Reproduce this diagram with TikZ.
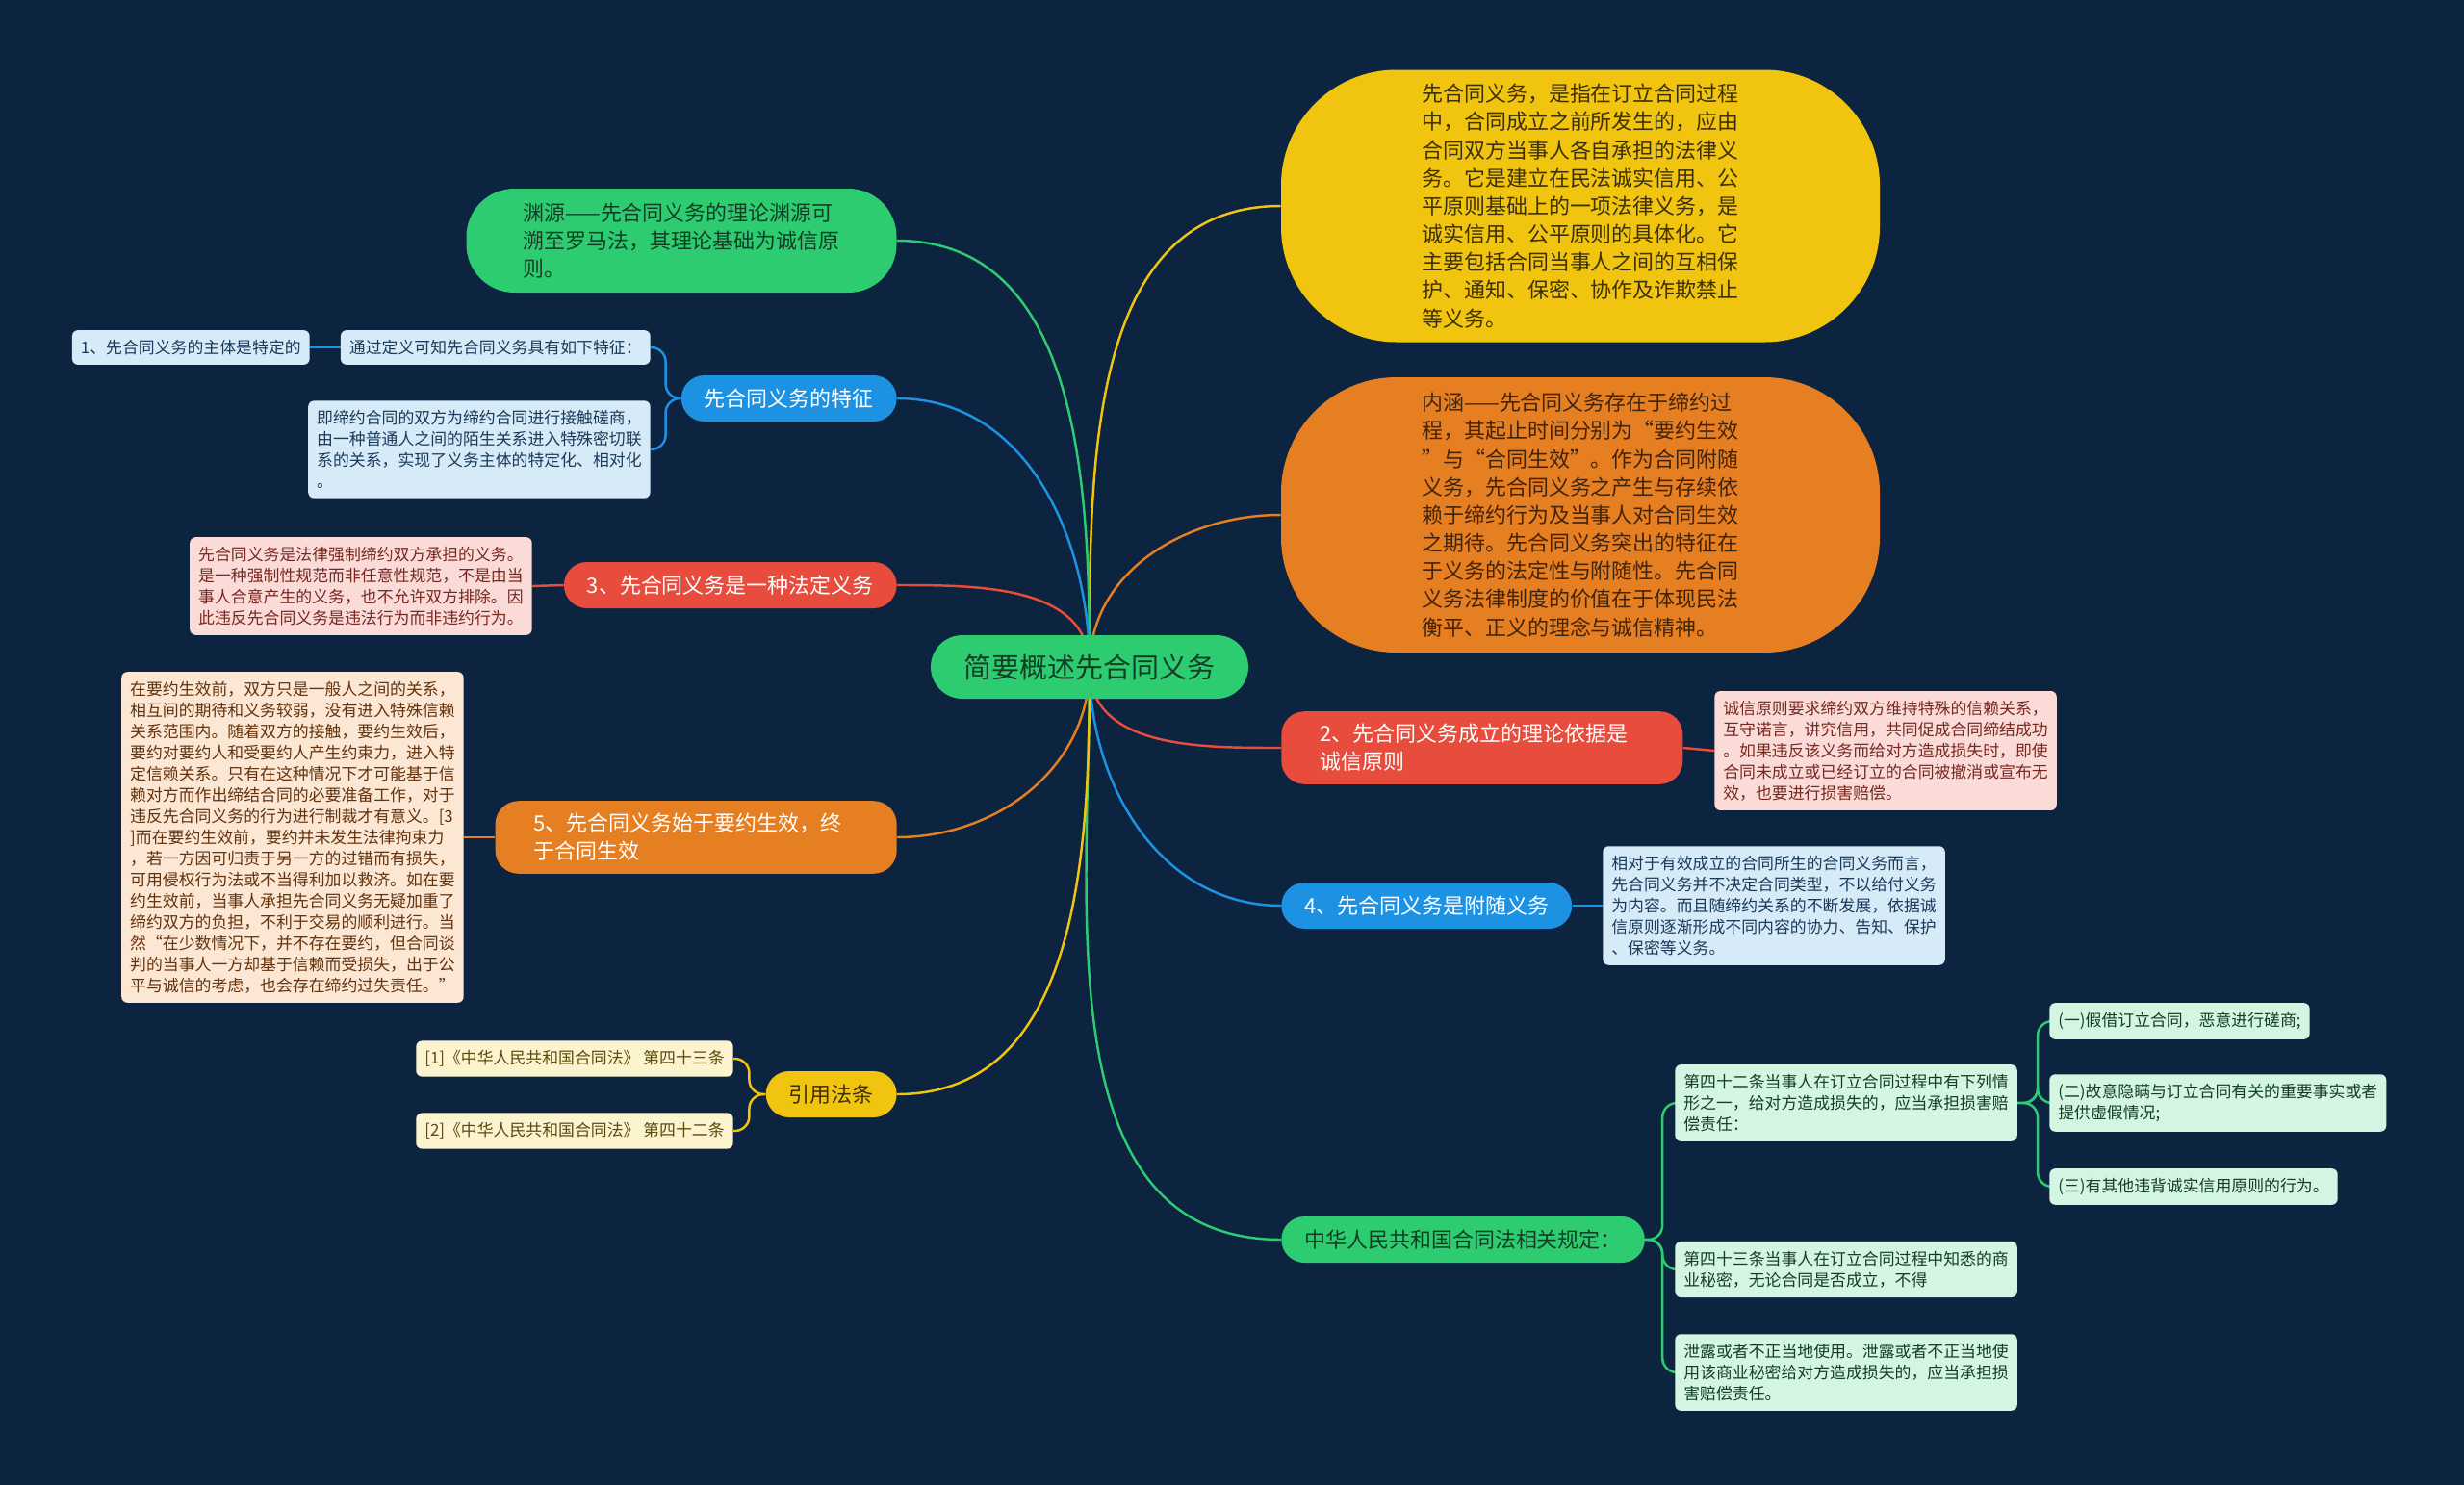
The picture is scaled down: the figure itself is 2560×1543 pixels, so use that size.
\documentclass[tikz,border=0pt]{standalone}
\usepackage{fontspec}
\setmainfont{Noto Sans CJK SC}
\usepackage{tikz}
\usetikzlibrary{calc,positioning}
\definecolor{bgnavy}{RGB}{13,36,64}
\definecolor{mgreen}{RGB}{46,204,113}
\definecolor{myellow}{RGB}{241,196,15}
\definecolor{morange}{RGB}{230,126,34}
\definecolor{mred}{RGB}{231,76,60}
\definecolor{mblue}{RGB}{30,146,226}
\definecolor{lgreen}{RGB}{213,245,227}
\definecolor{lyellow}{RGB}{252,243,207}
\definecolor{lorange}{RGB}{251,231,212}
\definecolor{lred}{RGB}{250,219,216}
\definecolor{lblue}{RGB}{214,234,248}
\definecolor{dgreen}{RGB}{18,62,38}
\definecolor{dyellow}{RGB}{60,48,8}
\definecolor{dorange}{RGB}{66,36,10}
\definecolor{dred}{RGB}{120,40,31}
\definecolor{dblue}{RGB}{27,58,90}
\definecolor{dbrown}{RGB}{100,50,12}
\definecolor{dolive}{RGB}{90,74,12}
\pgfdeclarelayer{bg}
\pgfdeclarelayer{edges}
\pgfsetlayers{bg,edges,main}

\begin{document}
\begin{tikzpicture}[x=0.2mm, y=-0.2mm,
    root/.style={fill=mgreen, text=dgreen, rounded corners=6.6mm, minimum width=66mm,
      minimum height=13.2mm, font=\fontsize{16.5}{20}\selectfont},
    pill/.style={rounded corners=24mm, minimum width=124.4mm, align=left,
      font=\fontsize{12.5}{16.6}\selectfont},
    branch/.style={rounded corners=4.8mm, minimum height=9.6mm, inner xsep=4.8mm,
      align=left, font=\fontsize{12.5}{16.6}\selectfont},
    branchtwo/.style={branch, inner xsep=8mm, inner ysep=2.6mm, text width=67.4mm},
    leaf/.style={rounded corners=1.2mm, inner xsep=1.8mm, inner ysep=2mm, align=left,
      font=\fontsize{9.6}{12.5}\selectfont},
    link/.style={line width=1.4pt},
    bracket/.style={line width=1.4pt, rounded corners=3mm}]
  \begin{pgfonlayer}{bg}
    \fill[bgnavy] (0,0) rectangle (2560,1543);
  \end{pgfonlayer}
  \useasboundingbox (0,0) rectangle (2560,1543);

  % centre
  \node[root] (root) at (1132,693) {简要概述先合同义务};

  % right branches
  \node[pill, fill=myellow, text=dyellow, minimum height=56.6mm] (dingyi) at (1642,214)
    {先合同义务，是指在订立合同过程\\中，合同成立之前所发生的，应由\\合同双方当事人各自承担的法律义\\务。它是建立在民法诚实信用、公\\平原则基础上的一项法律义务，是\\诚实信用、公平原则的具体化。它\\主要包括合同当事人之间的互相保\\护、通知、保密、协作及诈欺禁止\\等义务。};
  \node[pill, fill=morange, text=dorange, minimum height=57.2mm] (neihan) at (1642,535)
    {内涵——先合同义务存在于缔约过\\程，其起止时间分别为“要约生效\\”与“合同生效”。作为合同附随\\义务，先合同义务之产生与存续依\\赖于缔约行为及当事人对合同生效\\之期待。先合同义务突出的特征在\\于义务的法定性与附随性。先合同\\义务法律制度的价值在于体现民法\\衡平、正义的理念与诚信精神。};
  \node[branchtwo, fill=mred, text=white, anchor=west] (yiju) at (1331,777)
    {2、先合同义务成立的理论依据是\\诚信原则};
  \node[leaf, fill=lred, text=dred, anchor=west] (yijuleaf) at (1781,780)
    {诚信原则要求缔约双方维持特殊的信赖关系，\\互守诺言，讲究信用，共同促成合同缔结成功\\。如果违反该义务而给对方造成损失时，即使\\合同未成立或已经订立的合同被撤消或宣布无\\效，也要进行损害赔偿。};
  \node[branch, fill=mblue, text=white, anchor=west] (fusui) at (1331,941)
    {4、先合同义务是附随义务};
  \node[leaf, fill=lblue, text=dblue, anchor=west] (fusuileaf) at (1665,941)
    {相对于有效成立的合同所生的合同义务而言，\\先合同义务并不决定合同类型，不以给付义务\\为内容。而且随缔约关系的不断发展，依据诚\\信原则逐渐形成不同内容的协力、告知、保护\\、保密等义务。};
  \node[branch, fill=mgreen, text=dgreen, anchor=west] (hetongfa) at (1331,1288)
    {中华人民共和国合同法相关规定：};
  \node[leaf, fill=lgreen, text=dgreen, anchor=west] (tiao42) at (1740,1146)
    {第四十二条当事人在订立合同过程中有下列情\\形之一，给对方造成损失的，应当承担损害赔\\偿责任：};
  \node[leaf, fill=lgreen, text=dgreen, anchor=west] (tiao43) at (1740,1319)
    {第四十三条当事人在订立合同过程中知悉的商\\业秘密，无论合同是否成立，不得};
  \node[leaf, fill=lgreen, text=dgreen, anchor=west] (xielu) at (1740,1426)
    {泄露或者不正当地使用。泄露或者不正当地使\\用该商业秘密给对方造成损失的，应当承担损\\害赔偿责任。};
  \node[leaf, fill=lgreen, text=dgreen, anchor=west] (qing1) at (2129,1061)
    {(一)假借订立合同，恶意进行磋商;};
  \node[leaf, fill=lgreen, text=dgreen, anchor=west] (qing2) at (2129,1146)
    {(二)故意隐瞒与订立合同有关的重要事实或者\\提供虚假情况;};
  \node[leaf, fill=lgreen, text=dgreen, anchor=west] (qing3) at (2129,1233)
    {(三)有其他违背诚实信用原则的行为。};

  % left branches
  \node[pill, rounded corners=10mm, minimum width=89.4mm, minimum height=21.6mm,
    fill=mgreen, text=dgreen] (yuanyuan) at (708,250)
    {渊源——先合同义务的理论渊源可\\溯至罗马法，其理论基础为诚信原\\则。};
  \node[branch, fill=mblue, text=white, anchor=east] (tezheng) at (932,414)
    {先合同义务的特征};
  \node[leaf, fill=lblue, text=dblue, anchor=east] (tezheng1) at (676,361)
    {通过定义可知先合同义务具有如下特征：};
  \node[leaf, fill=lblue, text=dblue, anchor=east] (zhuti) at (322,361)
    {1、先合同义务的主体是特定的};
  \node[leaf, fill=lblue, text=dblue, anchor=east] (tezheng2) at (676,467)
    {即缔约合同的双方为缔约合同进行接触磋商，\\由一种普通人之间的陌生关系进入特殊密切联\\系的关系，实现了义务主体的特定化、相对化\\。};
  \node[branch, fill=mred, text=white, anchor=east] (fading) at (932,608)
    {3、先合同义务是一种法定义务};
  \node[leaf, fill=lred, text=dred, anchor=east] (fadingleaf) at (553,609)
    {先合同义务是法律强制缔约双方承担的义务。\\是一种强制性规范而非任意性规范，不是由当\\事人合意产生的义务，也不允许双方排除。因\\此违反先合同义务是违法行为而非违约行为。};
  \node[branchtwo, fill=morange, text=white, anchor=east] (shixian) at (932,870)
    {5、先合同义务始于要约生效，终\\于合同生效};
  \node[leaf, fill=lorange, text=dbrown, anchor=east] (shixianleaf) at (482,870)
    {在要约生效前，双方只是一般人之间的关系，\\相互间的期待和义务较弱，没有进入特殊信赖\\关系范围内。随着双方的接触，要约生效后，\\要约对要约人和受要约人产生约束力，进入特\\定信赖关系。只有在这种情况下才可能基于信\\赖对方而作出缔结合同的必要准备工作，对于\\违反先合同义务的行为进行制裁才有意义。[3\\]而在要约生效前，要约并未发生法律拘束力\\，若一方因可归责于另一方的过错而有损失，\\可用侵权行为法或不当得利加以救济。如在要\\约生效前，当事人承担先合同义务无疑加重了\\缔约双方的负担，不利于交易的顺利进行。当\\然“在少数情况下，并不存在要约，但合同谈\\判的当事人一方却基于信赖而受损失，出于公\\平与诚信的考虑，也会存在缔约过失责任。”};
  \node[branch, fill=myellow, text=dyellow, anchor=east] (fatiao) at (932,1137)
    {引用法条};
  \node[leaf, fill=lyellow, text=dolive, anchor=east] (fatiao1) at (762,1100)
    {[1]《中华人民共和国合同法》 第四十三条};
  \node[leaf, fill=lyellow, text=dolive, anchor=east] (fatiao2) at (762,1175)
    {[2]《中华人民共和国合同法》 第四十二条};

  % connectors
  \begin{pgfonlayer}{edges}
    \draw[link, myellow] (root.center) to[out=90, in=180] (dingyi.west);
    \draw[link, morange] (root.center) to[out=90, in=180] (neihan.west);
    \draw[link, mred] (root.center) to[out=-90, in=180] (yiju.west);
    \draw[link, mblue] (root.center) to[out=-90, in=180] (fusui.west);
    \draw[link, mgreen] (root.center) to[out=-90, in=180] (hetongfa.west);
    \draw[link, mgreen] (root.center) to[out=90, in=0] (yuanyuan.east);
    \draw[link, mblue] (root.center) to[out=90, in=0] (tezheng.east);
    \draw[link, mred] (root.center) to[out=90, in=0] (fading.east);
    \draw[link, morange] (root.center) to[out=-90, in=0] (shixian.east);
    \draw[link, myellow] (root.center) to[out=-90, in=0] (fatiao.east);

    \draw[link, mred] (yiju.east) -- (yijuleaf.west);
    \draw[link, mblue] (fusui.east) -- (fusuileaf.west);
    \draw[bracket, mgreen] (hetongfa.east) -- ++(18,0) |- (tiao42.west);
    \draw[bracket, mgreen] (hetongfa.east) -- ++(18,0) |- (tiao43.west);
    \draw[bracket, mgreen] (hetongfa.east) -- ++(18,0) |- (xielu.west);
    \draw[bracket, mgreen] (tiao42.east) -- ++(21,0) |- (qing1.west);
    \draw[bracket, mgreen] (tiao42.east) -- ++(21,0) |- (qing2.west);
    \draw[bracket, mgreen] (tiao42.east) -- ++(21,0) |- (qing3.west);

    \draw[bracket, mblue] (tezheng.west) -- ++(-16,0) |- (tezheng1.east);
    \draw[bracket, mblue] (tezheng.west) -- ++(-16,0) |- (tezheng2.east);
    \draw[link, mblue] (tezheng1.west) -- (zhuti.east);
    \draw[link, mred] (fading.west) -- (fadingleaf.east);
    \draw[link, morange] (shixian.west) -- (shixianleaf.east);
    \draw[bracket, myellow] (fatiao.west) -- ++(-17,0) |- (fatiao1.east);
    \draw[bracket, myellow] (fatiao.west) -- ++(-17,0) |- (fatiao2.east);
  \end{pgfonlayer}
\end{tikzpicture}
\end{document}
